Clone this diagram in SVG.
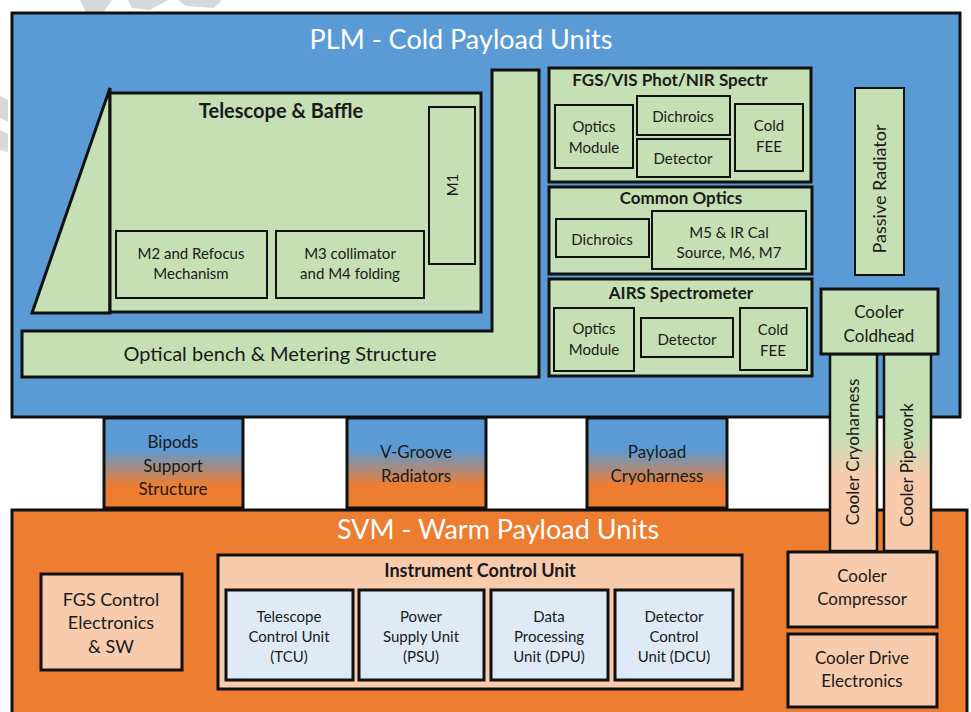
<svg xmlns="http://www.w3.org/2000/svg" width="971" height="712" viewBox="0 0 971 712">
  <defs>
    <linearGradient id="coldToWarm" x1="0" y1="0" x2="0" y2="1">
      <stop offset="0.35" stop-color="#5B9BD5"/>
      <stop offset="0.75" stop-color="#ED7D31"/>
    </linearGradient>
    <linearGradient id="greenToPeach" x1="0" y1="0" x2="0" y2="1">
      <stop offset="0.42" stop-color="#C5E0B4"/>
      <stop offset="0.62" stop-color="#F8CBAD"/>
    </linearGradient>
    <style>
      text { font-family: Lato, "Liberation Sans", sans-serif; fill: #1a1a1a; text-anchor: middle; }
      .big { font-size: 27px; fill: #ffffff; }
      .ttl { font-size: 17px; font-weight: bold; }
      .ttlL { font-size: 20px; font-weight: bold; }
      .ttlM { font-size: 18px; font-weight: bold; }
      .t15 { font-size: 15px; }
      .t17 { font-size: 17px; }
      .t18 { font-size: 18px; }
      .t20 { font-size: 20px; }
      .blue { fill: #5B9BD5; stroke: #111; stroke-width: 3; }
      .orange { fill: #ED7D31; stroke: #111; stroke-width: 3; }
      .green { fill: #C5E0B4; stroke: #111; stroke-width: 3; }
      .greenS { fill: #C5E0B4; stroke: #111; stroke-width: 2; }
      .peach { fill: #F8CBAD; stroke: #111; stroke-width: 3; }
      .lblue { fill: #DEEBF7; stroke: #111; stroke-width: 3; }
      .grad { fill: url(#coldToWarm); stroke: #111; stroke-width: 3; }
      .pipe { fill: url(#greenToPeach); stroke: #111; stroke-width: 2.5; }
      .mark { fill: #d8d8d8; }
    </style>
  </defs>

  <!-- faint background mark, top-left -->
  <g id="backdrop-mark">
    <path class="mark" d="M80,0 L112,0 L104,12 L86,12 Z"/>
    <path class="mark" d="M128,0 L168,0 L150,10 L132,8 Z"/>
    <path class="mark" d="M178,0 L222,0 L214,8 L186,6 Z"/>
    <path class="mark" d="M0,96 L8,100 L8,122 L0,118 Z"/>
    <path class="mark" d="M0,130 L8,134 L8,152 L0,150 Z"/>
  </g>

  <!-- cold module -->
  <g id="plm">
    <rect class="blue" x="12" y="13" width="948" height="404"/>
    <text class="big" x="461" y="49">PLM - Cold Payload Units</text>
  </g>

  <!-- warm module -->
  <g id="svm">
    <rect class="orange" x="12" y="510" width="955" height="215"/>
    <text class="big" x="498" y="539">SVM - Warm Payload Units</text>
  </g>

  <!-- interface blocks between modules -->
  <g id="bipods">
    <rect class="grad" x="104" y="418" width="139" height="90"/>
    <text class="t17"><tspan x="173" y="448">Bipods</tspan><tspan x="173" y="472">Support</tspan><tspan x="173" y="495">Structure</tspan></text>
  </g>
  <g id="vgroove">
    <rect class="grad" x="347" y="418" width="139" height="90"/>
    <text class="t17"><tspan x="416" y="458">V-Groove</tspan><tspan x="416" y="482">Radiators</tspan></text>
  </g>
  <g id="payload-cryoharness">
    <rect class="grad" x="587" y="418" width="140" height="90"/>
    <text class="t17"><tspan x="657" y="458">Payload</tspan><tspan x="657" y="482">Cryoharness</tspan></text>
  </g>

  <!-- optical bench (L-shaped) -->
  <g id="optical-bench">
    <path class="green" d="M22,331 L492,331 L492,70 L539,70 L539,377 L22,377 Z"/>
    <text class="t20" x="280" y="361">Optical bench &amp; Metering Structure</text>
  </g>

  <!-- telescope -->
  <g id="telescope">
    <polygon class="green" points="110,88 110,313 32,313"/>
    <rect class="green" x="110" y="93" width="371" height="219"/>
    <text class="ttlL" x="281" y="118">Telescope &amp; Baffle</text>
  </g>
  <g id="m1">
    <rect class="greenS" x="429" y="107" width="46" height="157"/>
    <text class="t15" transform="translate(458,185) rotate(-90)" x="0" y="0">M1</text>
  </g>
  <g id="m2">
    <rect class="greenS" x="116" y="231" width="151" height="67"/>
    <text class="t15"><tspan x="191" y="259">M2 and Refocus</tspan><tspan x="191" y="279">Mechanism</tspan></text>
  </g>
  <g id="m3">
    <rect class="greenS" x="276" y="231" width="148" height="67"/>
    <text class="t15"><tspan x="350" y="259">M3 collimator</tspan><tspan x="350" y="279">and M4 folding</tspan></text>
  </g>

  <!-- FGS / VIS photometer / NIR spectrometer -->
  <g id="fgs">
    <rect class="green" x="549" y="68" width="262" height="114"/>
    <text class="ttl" x="670" y="86">FGS/VIS Phot/NIR Spectr</text>
  </g>
  <g id="fgs-optics">
    <rect class="greenS" x="555" y="105" width="78" height="63"/>
    <text class="t15"><tspan x="594" y="132">Optics</tspan><tspan x="594" y="153">Module</tspan></text>
  </g>
  <g id="fgs-dichroics">
    <rect class="greenS" x="637" y="96" width="93" height="39"/>
    <text class="t15" x="683" y="122">Dichroics</text>
  </g>
  <g id="fgs-detector">
    <rect class="greenS" x="637" y="139" width="93" height="38"/>
    <text class="t15" x="683" y="164">Detector</text>
  </g>
  <g id="fgs-fee">
    <rect class="greenS" x="735" y="104" width="68" height="67"/>
    <text class="t15"><tspan x="769" y="131">Cold</tspan><tspan x="769" y="152">FEE</tspan></text>
  </g>

  <!-- common optics -->
  <g id="common-optics">
    <rect class="green" x="549" y="187" width="263" height="87"/>
    <text class="ttl" x="681" y="204">Common Optics</text>
  </g>
  <g id="co-dichroics">
    <rect class="greenS" x="556" y="219" width="93" height="38"/>
    <text class="t15" x="602" y="245">Dichroics</text>
  </g>
  <g id="co-m5">
    <rect class="greenS" x="652" y="211" width="154" height="58"/>
    <text class="t15"><tspan x="729" y="238">M5 &amp; IR Cal</tspan><tspan x="729" y="258">Source, M6, M7</tspan></text>
  </g>

  <!-- AIRS spectrometer -->
  <g id="airs">
    <rect class="green" x="549" y="279" width="263" height="97"/>
    <text class="ttl" x="681" y="299">AIRS Spectrometer</text>
  </g>
  <g id="airs-optics">
    <rect class="greenS" x="554" y="308" width="80" height="63"/>
    <text class="t15"><tspan x="594" y="334">Optics</tspan><tspan x="594" y="355">Module</tspan></text>
  </g>
  <g id="airs-detector">
    <rect class="greenS" x="641" y="318" width="92" height="39"/>
    <text class="t15" x="687" y="345">Detector</text>
  </g>
  <g id="airs-fee">
    <rect class="greenS" x="740" y="308" width="67" height="62"/>
    <text class="t15"><tspan x="773" y="335">Cold</tspan><tspan x="773" y="356">FEE</tspan></text>
  </g>

  <!-- radiator and cooler chain -->
  <g id="passive-radiator">
    <rect class="greenS" x="855" y="88" width="49" height="187"/>
    <text class="t18" transform="translate(886,189) rotate(-90)" x="0" y="0">Passive Radiator</text>
  </g>
  <g id="cooler-cryoharness">
    <rect class="pipe" x="830" y="354" width="47" height="197"/>
    <text class="t17" transform="translate(859,452) rotate(-90)" x="0" y="0">Cooler Cryoharness</text>
  </g>
  <g id="cooler-pipework">
    <rect class="pipe" x="884" y="354" width="47" height="197"/>
    <text class="t17" transform="translate(913,465) rotate(-90)" x="0" y="0">Cooler Pipework</text>
  </g>
  <g id="cooler-coldhead">
    <rect class="green" x="821" y="289" width="117" height="65"/>
    <text class="t17"><tspan x="879" y="318">Cooler</tspan><tspan x="879" y="342">Coldhead</tspan></text>
  </g>
  <g id="cooler-compressor">
    <rect class="peach" x="788" y="552" width="149" height="75"/>
    <text class="t17"><tspan x="862" y="582">Cooler</tspan><tspan x="862" y="605">Compressor</tspan></text>
  </g>
  <g id="cooler-drive">
    <rect class="peach" x="788" y="634" width="149" height="73"/>
    <text class="t17"><tspan x="862" y="664">Cooler Drive</tspan><tspan x="862" y="687">Electronics</tspan></text>
  </g>

  <!-- warm electronics -->
  <g id="fgs-control">
    <rect class="peach" x="41" y="574" width="141" height="96"/>
    <text class="t18"><tspan x="111" y="606">FGS Control</tspan><tspan x="111" y="629">Electronics</tspan><tspan x="111" y="653">&amp; SW</tspan></text>
  </g>
  <g id="icu">
    <rect class="peach" x="218" y="555" width="524" height="134"/>
    <text class="ttlM" x="480" y="577">Instrument Control Unit</text>
  </g>
  <g id="tcu">
    <rect class="lblue" x="226" y="590" width="127" height="90"/>
    <text class="t15"><tspan x="289" y="622">Telescope</tspan><tspan x="289" y="642">Control Unit</tspan><tspan x="289" y="662">(TCU)</tspan></text>
  </g>
  <g id="psu">
    <rect class="lblue" x="359" y="590" width="125" height="90"/>
    <text class="t15"><tspan x="421" y="622">Power</tspan><tspan x="421" y="642">Supply Unit</tspan><tspan x="421" y="662">(PSU)</tspan></text>
  </g>
  <g id="dpu">
    <rect class="lblue" x="491" y="590" width="117" height="90"/>
    <text class="t15"><tspan x="549" y="622">Data</tspan><tspan x="549" y="642">Processing</tspan><tspan x="549" y="662">Unit (DPU)</tspan></text>
  </g>
  <g id="dcu">
    <rect class="lblue" x="615" y="590" width="118" height="90"/>
    <text class="t15"><tspan x="674" y="622">Detector</tspan><tspan x="674" y="642">Control</tspan><tspan x="674" y="662">Unit (DCU)</tspan></text>
  </g>

  <g id="connectors"></g>
</svg>
